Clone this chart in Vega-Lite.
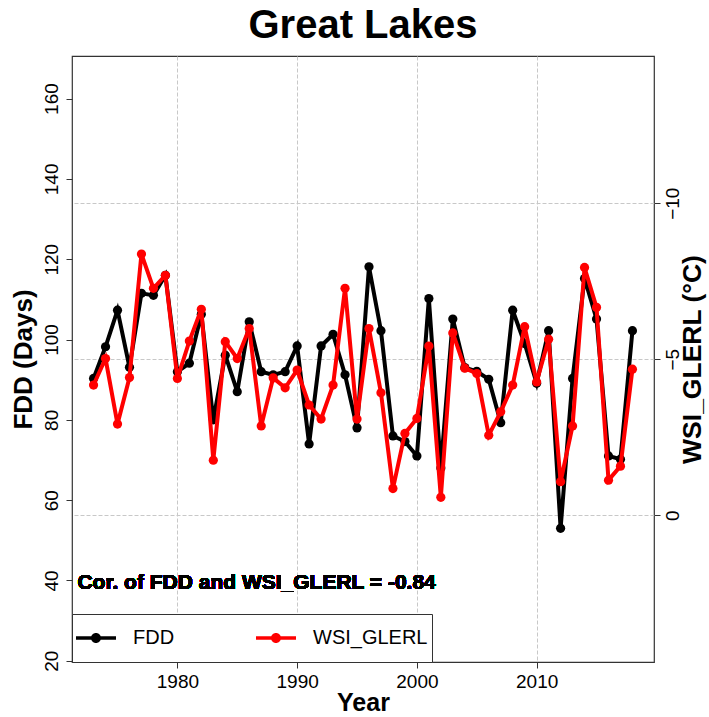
{
  "$schema": "https://vega.github.io/schema/vega-lite/v6.json",
  "autosize": {"type": "none"},
  "padding": {"left": 72, "top": 56, "right": 55, "bottom": 55},
  "width": 582,
  "height": 606,
  "background": "white",
  "title": {"text": "Great Lakes", "fontSize": 40, "font": "Liberation Sans", "fontWeight": "bold", "color": "black", "anchor": "middle", "frame": "group", "offset": 10},
  "config": {
    "view": {"stroke": "#333", "strokeWidth": 1.2},
    "font": "Liberation Sans",
    "axis": {"domain": false, "tickColor": "#333", "tickSize": 6, "labelFontSize": 19, "labelColor": "black", "titleFontSize": 26, "titleFontWeight": "bold", "titleColor": "black", "gridColor": "#c8c8c8", "gridDash": [4, 2], "gridWidth": 1}
  },
  "data": {"values": [
    {"Year": 1973, "FDD": 90.3, "WSI": -4.17},
    {"Year": 1974, "FDD": 98.2, "WSI": -5.02},
    {"Year": 1975, "FDD": 107.3, "WSI": -2.92},
    {"Year": 1976, "FDD": 93.1, "WSI": -4.41},
    {"Year": 1977, "FDD": 111.5, "WSI": -8.37},
    {"Year": 1978, "FDD": 111.0, "WSI": -7.27},
    {"Year": 1979, "FDD": 116.0, "WSI": -7.69},
    {"Year": 1980, "FDD": 92.0, "WSI": -4.38},
    {"Year": 1981, "FDD": 94.1, "WSI": -5.58},
    {"Year": 1982, "FDD": 106.3, "WSI": -6.6},
    {"Year": 1983, "FDD": 80.0, "WSI": -1.76},
    {"Year": 1984, "FDD": 96.1, "WSI": -5.56},
    {"Year": 1985, "FDD": 87.0, "WSI": -5.02},
    {"Year": 1986, "FDD": 104.4, "WSI": -5.98},
    {"Year": 1987, "FDD": 92.0, "WSI": -2.86},
    {"Year": 1988, "FDD": 91.2, "WSI": -4.4},
    {"Year": 1989, "FDD": 92.0, "WSI": -4.08},
    {"Year": 1990, "FDD": 98.4, "WSI": -4.65},
    {"Year": 1991, "FDD": 74.0, "WSI": -3.53},
    {"Year": 1992, "FDD": 98.4, "WSI": -3.08},
    {"Year": 1993, "FDD": 101.3, "WSI": -4.17},
    {"Year": 1994, "FDD": 91.2, "WSI": -7.27},
    {"Year": 1995, "FDD": 78.0, "WSI": -3.08},
    {"Year": 1996, "FDD": 118.1, "WSI": -5.98},
    {"Year": 1997, "FDD": 102.2, "WSI": -3.92},
    {"Year": 1998, "FDD": 76.0, "WSI": -0.85},
    {"Year": 1999, "FDD": 74.6, "WSI": -2.62},
    {"Year": 2000, "FDD": 71.0, "WSI": -3.1},
    {"Year": 2001, "FDD": 110.2, "WSI": -5.42},
    {"Year": 2002, "FDD": 68.0, "WSI": -0.57},
    {"Year": 2003, "FDD": 105.1, "WSI": -5.84},
    {"Year": 2004, "FDD": 93.0, "WSI": -4.71},
    {"Year": 2005, "FDD": 92.1, "WSI": -4.54},
    {"Year": 2006, "FDD": 90.1, "WSI": -2.56},
    {"Year": 2007, "FDD": 79.3, "WSI": -3.31},
    {"Year": 2008, "FDD": 107.3, "WSI": -4.17},
    {"Year": 2009, "FDD": 99.0, "WSI": -6.04},
    {"Year": 2010, "FDD": 89.1, "WSI": -4.27},
    {"Year": 2011, "FDD": 102.2, "WSI": -5.64},
    {"Year": 2012, "FDD": 53.0, "WSI": -1.07},
    {"Year": 2013, "FDD": 90.3, "WSI": -2.86},
    {"Year": 2014, "FDD": 115.2, "WSI": -7.94},
    {"Year": 2015, "FDD": 105.1, "WSI": -6.66},
    {"Year": 2016, "FDD": 71.0, "WSI": -1.12},
    {"Year": 2017, "FDD": 70.2, "WSI": -1.57},
    {"Year": 2018, "FDD": 102.2, "WSI": -4.68}
  ]},
  "layer": [
    {
      "layer": [
        {
          "mark": {"type": "line", "strokeWidth": 4, "point": {"filled": true, "size": 85}},
          "encoding": {
            "x": {"field": "Year", "type": "quantitative", "scale": {"domain": [1971.2, 2019.8], "nice": false, "zero": false},
                  "axis": {"title": "Year", "values": [1980, 1990, 2000, 2010], "format": "d", "labelPadding": 4, "titlePadding": -1, "titleFontSize": 25, "grid": true}},
            "y": {"field": "FDD", "type": "quantitative", "scale": {"domain": [19.7, 170.6], "nice": false, "zero": false},
                  "axis": {"title": "FDD (Days)", "orient": "left", "values": [20, 40, 60, 80, 100, 120, 140, 160], "grid": false, "labelAngle": -90, "labelAlign": "center", "labelBaseline": "bottom", "labelPadding": 5, "titlePadding": 6}},
            "color": {"datum": "FDD", "type": "nominal",
                      "scale": {"domain": ["FDD", "WSI_GLERL"], "range": ["black", "red"]},
                      "legend": {"title": null, "orient": "none", "legendX": 0, "legendY": 558, "direction": "horizontal", "columns": 2,
                                 "gridAlign": "each", "columnPadding": 81, "padding": 4, "clipHeight": 40, "strokeColor": "#333", "fillColor": "white",
                                 "symbolType": "M -1 -0.0875 L 1 -0.0875 L 1 0.0875 L -1 0.0875 Z M 0.25 0 A 0.25 0.25 0 1 1 -0.25 0 A 0.25 0.25 0 1 1 0.25 0 Z",
                                 "symbolSize": 1600, "symbolStrokeWidth": 0, "labelFontSize": 20, "labelOffset": 17, "labelColor": "black", "labelFont": "Liberation Sans",
                                 "encode": {"symbols": {"update": {"fill": {"scale": "color", "field": "value"}, "stroke": {"value": "transparent"}, "opacity": {"value": 1}}}}}}
          }
        },
        {
          "mark": {"type": "text", "text": "Cor. of FDD and WSI_GLERL = -0.84", "fontSize": 21, "fontWeight": "bold", "font": "Liberation Sans", "align": "left", "baseline": "middle", "color": "black"},
          "encoding": {
            "x": {"datum": 1971.65, "type": "quantitative"},
            "y": {"datum": 39.4, "type": "quantitative"}
          }
        }
      ]
    },
    {
      "mark": {"type": "line", "strokeWidth": 4, "point": {"filled": true, "size": 85}},
      "encoding": {
        "x": {"field": "Year", "type": "quantitative"},
        "y": {"field": "WSI", "type": "quantitative", "scale": {"domain": [-14.72, 4.71], "reverse": true, "nice": false, "zero": false},
              "axis": {"title": "WSI_GLERL (°C)", "orient": "right", "values": [-10, -5, 0], "grid": true, "labelAngle": -90, "labelAlign": "center", "labelBaseline": "top", "labelPadding": 3, "titleAngle": -90, "titlePadding": 24, "titleFontSize": 26.5}},
        "color": {"datum": "WSI_GLERL", "type": "nominal"}
      }
    }
  ],
  "resolve": {"scale": {"y": "independent"}}
}
